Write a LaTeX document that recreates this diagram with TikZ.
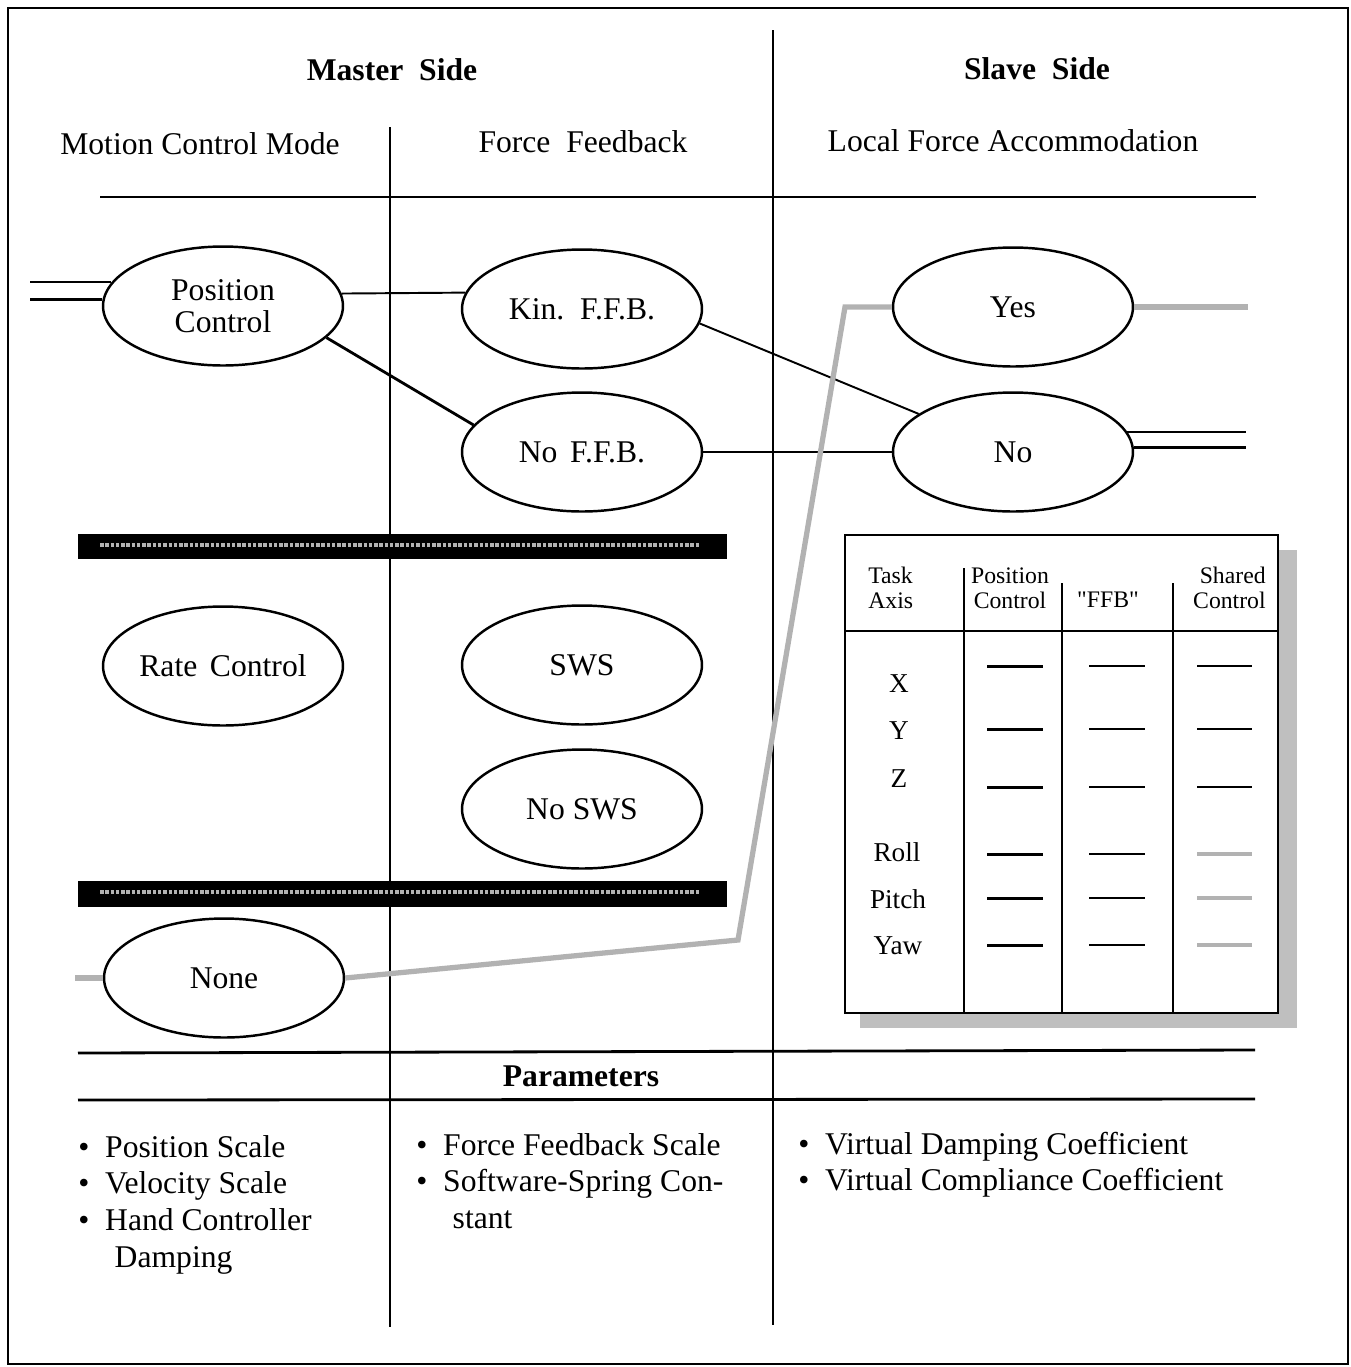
\documentclass[tikz,border=0pt]{standalone}
\usepackage{fontspec}
\setmainfont{Liberation Serif}
\newfontfamily\plainserif{Liberation Serif}
\usetikzlibrary{shapes.geometric}

\begin{document}
\begin{tikzpicture}[
    x=0.02cm, y=-0.02cm,
    oval/.style={draw, ellipse, line width=1.4pt, fill=white, inner sep=0pt,
                 minimum width=4.8cm, minimum height=2.38cm, align=center,
                 font=\fontsize{18}{18.5}\selectfont},
    txt/.style={font=\fontsize{18}{21}\selectfont, inner sep=0pt},
    head/.style={font=\fontsize{18}{21}\selectfont\bfseries, inner sep=0pt},
    cell/.style={font=\fontsize{13.5}{14}\selectfont, inner sep=0pt},
    axis/.style={font=\fontsize{15.5}{16}\selectfont, inner sep=0pt},
    rule/.style={line width=1.6pt},
    link/.style={line width=1.1pt},
    grayline/.style={line width=3pt, gray!60},
]
\useasboundingbox (0,0) rectangle (1351,1367);
\draw[rule] (8,8) rectangle (1348,1364);

\draw[rule] (773,30) -- (773,1325);
\draw[rule] (390,127) -- (390,1327);
\draw[rule] (100,197) -- (1256,197);
\draw[rule] (78,1053) -- (1255,1050);
\draw[rule] (78,1100) -- (1255,1099);

\fill (78,534) rectangle (727,559);
\draw[gray!60, line width=2pt, densely dotted] (100,545) -- (700,545);
\fill (78,881) rectangle (727,907);
\draw[gray!60, line width=2pt, densely dotted] (100,892) -- (700,892);

\node[head] (master) at (392,70) {Master\hspace{0.5em}Side};
\node[head] (slave)  at (1037,69) {Slave\hspace{0.5em}Side};
\node[txt] (mcm) at (200,144) {Motion Control Mode};
\node[txt] (ffb) at (583,142) {Force\hspace{0.5em}Feedback};
\node[txt] (lfa) at (1013,141) {Local Force Accommodation};

\node[oval] (pc)    at (223,306) {Position\\Control};
\node[oval] (kin)   at (582,309) {Kin.\hspace{0.5em}F.F.B.};
\node[oval] (noffb) at (582,452) {No\hspace{0.4em}F.F.B.};
\node[oval] (yes)   at (1013,307) {Yes};
\node[oval] (no)    at (1013,452) {No};
\node[oval] (rate)  at (223,666) {Rate\hspace{0.4em}Control};
\node[oval] (sws)   at (582,665) {SWS};
\node[oval] (nosws) at (582,809) {No SWS};
\node[oval] (none)  at (224,978) {None};

\coordinate (inPC) at (30,0);
\coordinate (outNo) at (1246,0);
\coordinate (inNone) at (75,978);
\coordinate (outYes) at (1248,307);
\coordinate (bendA) at (738,940);
\coordinate (bendB) at (845,307);

\draw[link] (pc.168) -- (pc.168 -| inPC);
\draw[rule] (pc.177) -- (pc.177 -| inPC);
\draw[link] (pc.6) -- (kin.172);
\draw[rule] (pc.-17) -- (noffb.166);
\draw[link] (kin.-7) -- (no.158);
\draw[link] (noffb.east) -- (no.west);
\draw[link] (no.10) -- (no.10 -| outNo);
\draw[rule] (no.2) -- (no.2 -| outNo);

\draw[grayline] (inNone) -- (none.west);
\draw[grayline] (none.east) -- (bendA) -- (bendB) -- (yes.west);
\draw[grayline] (yes.east) -- (outYes);

\fill[gray!50] (860,550) rectangle (1297,1028);
\draw[rule, fill=white] (845,535) rectangle (1278,1013);
\draw[link] (845,631) -- (1278,631);
\draw[link] (964,568) -- (964,1013);
\draw[link] (1062,583) -- (1062,1013);
\draw[link] (1173,583) -- (1173,1013);

\node[cell, anchor=west, align=left]  (task)   at (868,588) {Task\\Axis};
\node[cell, align=center]              (poscol) at (1010,588) {Position\\Control};
\node[cell]                            (ffbcol) at (1108,600) {\plainserif "FFB"};
\node[cell, anchor=east, align=right]  (shcol)  at (1266,588) {Shared\\Control};

\node[axis] (axX) at (899,684) {X};
\node[axis] (axY) at (899,731) {Y};
\node[axis] (axZ) at (899,779) {Z};
\node[axis] (axRoll)  at (897,852) {Roll};
\node[axis] (axPitch) at (898,899) {Pitch};
\node[axis] (axYaw)   at (898,946) {Yaw};

\foreach \dy/\cc/\lw in {666/black/1.1pt, 729/black/1.1pt, 787/black/1.1pt,
                         854/gray!60/2.6pt, 898/gray!60/2.6pt, 945/gray!60/2.6pt} {
  \draw[line width=1.7pt] (987,\dy) -- (1043,\dy);
  \draw[line width=1.1pt] (1089,\dy) -- (1145,\dy);
  \draw[line width=\lw, color=\cc] (1197,\dy) -- (1252,\dy);
}

\node[head] (param) at (581,1076) {Parameters};

\node[txt, anchor=base west] (parM) at (78,1157)
  {\begin{tabular}[t]{@{}l@{\hspace{0.5em}}l@{}}
   \textbullet & Position Scale\\
   \textbullet & Velocity Scale\\
   \textbullet & Hand Controller\\
               & \hspace{0.3em}Damping
   \end{tabular}};
\node[txt, anchor=base west] (parF) at (416,1155)
  {\begin{tabular}[t]{@{}l@{\hspace{0.5em}}l@{}}
   \textbullet & Force Feedback Scale\\
   \textbullet & Software-Spring Con-\\
               & \hspace{0.3em}stant
   \end{tabular}};
\node[txt, anchor=base west] (parS) at (798,1154)
  {\begin{tabular}[t]{@{}l@{\hspace{0.5em}}l@{}}
   \textbullet & Virtual Damping Coefficient\\
   \textbullet & Virtual Compliance Coefficient
   \end{tabular}};
\end{tikzpicture}
\end{document}
